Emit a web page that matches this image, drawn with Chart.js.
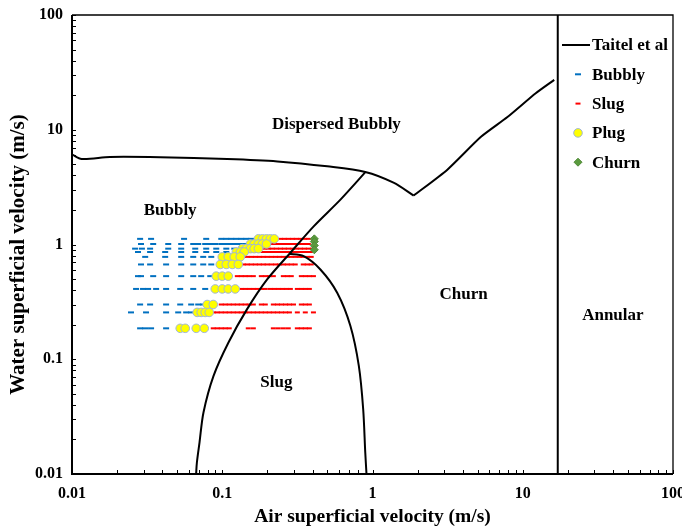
<!DOCTYPE html>
<html>
<head>
<meta charset="utf-8">
<script src="https://cdn.jsdelivr.net/npm/chart.js@4.4.1/dist/chart.umd.min.js"></script>
<style>
  html, body { margin: 0; padding: 0; background: #fff; }
  #wrap { width: 682px; height: 529px; }
</style>
</head>
<body>
<div id="wrap"><canvas id="flowMap" width="682" height="529"></canvas></div>
<script>
const SERIF = "'Liberation Serif', 'Times New Roman', serif";

// Decade ticks on both log axes
const AXIS_TICKS = [0.01, 0.1, 1, 10, 100];
const AXIS_TICK_LABELS = ['0.01', '0.1', '1', '10', '100'];
const Y_TITLE = 'Water superficial velocity (m/s)';

// Taitel et al. transition boundaries (air velocity x, water velocity y)
const TAITEL_DB_X = [0.01, 0.0116, 0.0179, 0.0386, 0.108, 0.233, 0.50, 0.895, 1.38, 1.88];
const TAITEL_DB_Y = [6.1, 5.56, 5.79, 5.76, 5.56, 5.30, 4.80, 4.29, 3.46, 2.67];
const TAITEL_RISE_X = [1.88, 3.15, 5.25, 7.91, 12.2, 16.2];
const TAITEL_RISE_Y = [2.67, 4.49, 8.64, 12.9, 20.8, 27.2];
const TAITEL_BS_X = [0.067, 0.0678, 0.0706, 0.075, 0.0875, 0.110, 0.146, 0.199, 0.284, 0.406, 0.612, 0.9];
const TAITEL_BS_Y = [0.01, 0.0126, 0.0189, 0.0344, 0.0716, 0.140, 0.272, 0.496, 0.847, 1.44, 2.46, 4.29];
const TAITEL_SC_X = [0.278, 0.348, 0.450, 0.582, 0.713, 0.811, 0.867, 0.895, 0.912];
const TAITEL_SC_Y = [0.83, 0.791, 0.606, 0.380, 0.195, 0.0875, 0.0367, 0.0154, 0.01];
const TAITEL_AN_X = [17.1, 17.1];
const TAITEL_AN_Y = [0.01, 100];

// Measured points: one water velocity per row, air velocities per regime
const ROW_Y = [1.12, 1.01, 0.92, 0.86, 0.78, 0.67, 0.53, 0.41, 0.30, 0.256, 0.186];

const BUBBLY_X = [
  [0.0284, 0.0336, 0.0557, 0.0782, 0.0985, 0.1064, 0.1148, 0.124, 0.1338, 0.1445, 0.156],
  [0.0288, 0.0347, 0.0437, 0.0533, 0.0641, 0.0692, 0.077, 0.0832, 0.0898, 0.0985, 0.1064, 0.1148, 0.124, 0.1338, 0.1445],
  [0.0263, 0.0292, 0.0331, 0.0437, 0.0533, 0.0661, 0.0782, 0.0912, 0.1064, 0.1202],
  [0.0275, 0.0331, 0.0417, 0.0533, 0.0661, 0.0782, 0.0912, 0.1064],
  [0.0307, 0.0417, 0.0533, 0.0641, 0.0747, 0.0845],
  [0.0288, 0.0331, 0.0423, 0.0533, 0.0641, 0.0747, 0.0845],
  [0.0275, 0.0288, 0.0347, 0.0423, 0.0533, 0.0641, 0.0724, 0.0832],
  [0.0267, 0.0297, 0.0321, 0.0363, 0.0423, 0.0525, 0.0641, 0.077],
  [0.0284, 0.0331, 0.0423, 0.0525, 0.0621, 0.0692, 0.0747],
  [0.0247, 0.0311, 0.0423, 0.0509, 0.0575, 0.0621],
  [0.0284, 0.0307, 0.0336, 0.0423]
];

const PLUG_X = [
  [0.174, 0.185, 0.197, 0.209, 0.222],
  [0.154, 0.163, 0.174, 0.185, 0.197],
  [0.136, 0.1445, 0.154, 0.163, 0.174],
  [0.124, 0.132, 0.14],
  [0.1, 0.1096, 0.1202, 0.1318],
  [0.097, 0.1064, 0.1166, 0.1278],
  [0.0912, 0.1, 0.1096],
  [0.0898, 0.1, 0.1096, 0.122],
  [0.0794, 0.0871],
  [0.0681, 0.0724, 0.077, 0.0819],
  [0.0525, 0.0567, 0.0671, 0.0759]
];

const SLUG_X = [
  [0.244, 0.259, 0.275, 0.293, 0.311, 0.331, 0.352, 0.374],
  [0.215, 0.229, 0.244, 0.259, 0.275, 0.293, 0.311, 0.331, 0.352, 0.374],
  [0.19, 0.2025, 0.215, 0.229, 0.244, 0.259, 0.275, 0.293, 0.311, 0.331, 0.352, 0.374, 0.398],
  [0.154, 0.163, 0.174, 0.185, 0.197, 0.209, 0.222, 0.236, 0.251, 0.267, 0.284, 0.302, 0.321, 0.341, 0.363, 0.386],
  [0.1467, 0.156, 0.166, 0.1765, 0.1875, 0.199, 0.212, 0.226, 0.240, 0.255, 0.271, 0.288, 0.306, 0.326, 0.346, 0.368, 0.391],
  [0.138, 0.1467, 0.156, 0.166, 0.1765, 0.1875, 0.199, 0.212, 0.226, 0.240, 0.255, 0.271, 0.288, 0.306, 0.346, 0.368, 0.391],
  [0.126, 0.1338, 0.1422, 0.151, 0.161, 0.182, 0.1934, 0.2057, 0.2188, 0.255, 0.271, 0.288, 0.336, 0.357, 0.380, 0.4045],
  [0.1338, 0.1422, 0.151, 0.161, 0.171, 0.182, 0.1934, 0.209, 0.222, 0.236, 0.251, 0.267, 0.284, 0.316, 0.336, 0.357, 0.380],
  [0.0985, 0.1047, 0.1113, 0.1184, 0.126, 0.1338, 0.1422, 0.151, 0.161, 0.182, 0.1934, 0.2188, 0.233, 0.248, 0.264, 0.280, 0.298, 0.336, 0.357, 0.380],
  [0.0871, 0.0926, 0.0985, 0.1047, 0.1113, 0.1184, 0.126, 0.1338, 0.1422, 0.151, 0.161, 0.171, 0.182, 0.1934, 0.2057, 0.2188, 0.233, 0.248, 0.264, 0.280, 0.316, 0.357, 0.4045],
  [0.0871, 0.0926, 0.0985, 0.1047, 0.1113, 0.149, 0.161, 0.2188, 0.236, 0.255, 0.275, 0.316, 0.336, 0.357, 0.380]
];

const CHURN_X = [0.41, 0.41, 0.41, 0.41];
const CHURN_Y = [1.12, 1.06, 0.98, 0.9];

// Flow regime names and where they sit on the map
const REGION_LABELS = ['Dispersed Bubbly', 'Bubbly', 'Churn', 'Slug', 'Annular'];
const REGION_X = [0.575, 0.045, 4.04, 0.229, 39.8];
const REGION_Y = [11.0, 1.98, 0.367, 0.063, 0.241];

const LEGEND_LABELS = ['Taitel et al', 'Bubbly', 'Slug', 'Plug', 'Churn'];

const toPoints = (xs, ys) => xs.map((x, i) => ({ x: x, y: ys[i] }));
const rowPoints = (rows) => rows.flatMap((xs, r) => xs.map(x => ({ x: x, y: ROW_Y[r] })));

const boundary = (xs, ys, tension) => ({
    label: 'Taitel et al',
    data: toPoints(xs, ys),
    showLine: true,
    borderColor: '#000',
    borderWidth: 2,
    pointRadius: 0,
    tension: tension,
    order: 0
});

const STYLES = {
    taitel: { color: '#000' },
    bubbly: { pointStyle: 'line', radius: 3, borderColor: '#0070C0', backgroundColor: '#0070C0', borderWidth: 2 },
    slug: { pointStyle: 'line', radius: 2.5, borderColor: '#FF0000', backgroundColor: '#FF0000', borderWidth: 2 },
    plug: { pointStyle: 'circle', radius: 4.3, borderColor: '#9FB5DA', backgroundColor: '#FFFF00', borderWidth: 1 },
    churn: { pointStyle: 'rectRot', radius: 4, borderColor: '#4F8A36', backgroundColor: '#5A9A3E', borderWidth: 1 }
};

const scatterSet = (label, data, st, order) => ({
    label: label,
    data: data,
    showLine: false,
    pointStyle: st.pointStyle,
    pointRadius: st.radius,
    pointBorderColor: st.borderColor,
    pointBackgroundColor: st.backgroundColor,
    pointBorderWidth: st.borderWidth,
    borderColor: st.borderColor,
    backgroundColor: st.backgroundColor,
    order: order
});

function drawMarker(ctx, st, x, y) {
    ctx.save();
    ctx.lineWidth = st.borderWidth;
    ctx.strokeStyle = st.borderColor;
    ctx.fillStyle = st.backgroundColor;
    const r = st.radius;
    ctx.beginPath();
    if (st.pointStyle === 'line') {
        ctx.moveTo(x - r, y);
        ctx.lineTo(x + r, y);
        ctx.stroke();
    } else if (st.pointStyle === 'circle') {
        ctx.arc(x, y, r, 0, Math.PI * 2);
        ctx.fill();
        ctx.stroke();
    } else {
        ctx.moveTo(x, y - r);
        ctx.lineTo(x + r, y);
        ctx.lineTo(x, y + r);
        ctx.lineTo(x - r, y);
        ctx.closePath();
        ctx.fill();
        ctx.stroke();
    }
    ctx.restore();
}

// Frame, inward minor ticks, y title, regime names and the legend
const mapDecor = {
    id: 'mapDecor',
    afterDraw(chart) {
        const { ctx, chartArea: a, scales: { x, y } } = chart;
        ctx.save();

        // minor ticks pointing into the plot
        ctx.strokeStyle = '#000';
        ctx.lineWidth = 1;
        ctx.beginPath();
        for (let d = 0; d < AXIS_TICKS.length - 1; d++) {
            for (let k = 1; k <= 10; k++) {
                const v = AXIS_TICKS[d] * k;
                const px = Math.round(x.getPixelForValue(v)) + 0.5;
                ctx.moveTo(px, a.bottom);
                ctx.lineTo(px, a.bottom - 4);
                const py = Math.round(y.getPixelForValue(v)) + 0.5;
                ctx.moveTo(a.left, py);
                ctx.lineTo(a.left + 4, py);
            }
        }
        ctx.stroke();

        // frame
        ctx.lineWidth = 1.3;
        ctx.beginPath();
        ctx.moveTo(a.left, a.top);
        ctx.lineTo(a.right, a.top);
        ctx.lineTo(a.right, a.bottom);
        ctx.stroke();
        ctx.lineWidth = 2;
        ctx.beginPath();
        ctx.moveTo(a.left, a.top);
        ctx.lineTo(a.left, a.bottom);
        ctx.lineTo(a.right, a.bottom);
        ctx.stroke();

        ctx.fillStyle = '#000';
        ctx.textAlign = 'center';
        ctx.textBaseline = 'middle';

        // vertical axis title, sitting a little below the plot centre
        ctx.save();
        ctx.font = `bold 21px ${SERIF}`;
        ctx.translate(19, (a.top + a.bottom) / 2 + 10);
        ctx.rotate(-Math.PI / 2);
        ctx.fillText(Y_TITLE, 0, 0);
        ctx.restore();

        // regime names
        ctx.font = `bold 17px ${SERIF}`;
        REGION_LABELS.forEach((t, i) => {
            ctx.fillText(t, x.getPixelForValue(REGION_X[i]), y.getPixelForValue(REGION_Y[i]));
        });

        // legend
        const symX = a.right - 95;
        const textX = a.right - 81;
        const styles = [STYLES.taitel, STYLES.bubbly, STYLES.slug, STYLES.plug, STYLES.churn];
        ctx.textAlign = 'left';
        LEGEND_LABELS.forEach((t, i) => {
            const ly = a.top + 30 + i * 29.3;
            if (i === 0) {
                ctx.strokeStyle = '#000';
                ctx.lineWidth = 2;
                ctx.beginPath();
                ctx.moveTo(a.right - 111, ly);
                ctx.lineTo(a.right - 83, ly);
                ctx.stroke();
            } else {
                drawMarker(ctx, styles[i], symX, ly);
            }
            ctx.fillStyle = '#000';
            ctx.fillText(t, textX, ly + 1);
        });
        ctx.restore();
    }
};

const logAxis = (title, isX) => ({
    type: 'logarithmic',
    min: 0.01,
    max: 100,
    afterBuildTicks: (s) => { s.ticks = AXIS_TICKS.map(v => ({ value: v })); },
    afterFit: (s) => {
        if (isX) s.height = 55; else s.width = 72;
        s.paddingLeft = 0; s.paddingRight = 0; s.paddingTop = 0; s.paddingBottom = 0;
    },
    grid: { display: false, drawTicks: false },
    border: { display: false },
    ticks: {
        autoSkip: false,
        maxRotation: 0,
        padding: isX ? 10 : 9,
        color: '#000',
        font: { family: SERIF, size: 16, weight: 'bold' },
        callback: (v) => {
            const i = AXIS_TICKS.findIndex(t => Math.abs(t - v) / t < 1e-6);
            return i >= 0 ? AXIS_TICK_LABELS[i] : '';
        }
    },
    title: {
        display: isX,
        text: title,
        color: '#000',
        padding: { top: 0, bottom: 0 },
        font: { family: SERIF, size: 19.5, weight: 'bold' }
    }
});

new Chart(document.getElementById('flowMap'), {
    type: 'scatter',
    data: {
        datasets: [
            boundary(TAITEL_DB_X, TAITEL_DB_Y, 0.3),
            boundary(TAITEL_RISE_X, TAITEL_RISE_Y, 0.2),
            boundary(TAITEL_BS_X, TAITEL_BS_Y, 0.3),
            boundary(TAITEL_SC_X, TAITEL_SC_Y, 0.3),
            boundary(TAITEL_AN_X, TAITEL_AN_Y, 0),
            scatterSet('Plug', rowPoints(PLUG_X), STYLES.plug, 1),
            scatterSet('Churn', toPoints(CHURN_X, CHURN_Y), STYLES.churn, 1),
            scatterSet('Slug', rowPoints(SLUG_X), STYLES.slug, 2),
            scatterSet('Bubbly', rowPoints(BUBBLY_X), STYLES.bubbly, 3)
        ]
    },
    options: {
        responsive: false,
        animation: false,
        layout: { padding: { top: 15, right: 9, left: 0, bottom: 0 } },
        plugins: { legend: { display: false }, tooltip: { enabled: false } },
        scales: {
            x: logAxis('Air superficial velocity (m/s)', true),
            y: logAxis(Y_TITLE, false)
        }
    },
    plugins: [mapDecor]
});
</script>
</body>
</html>
